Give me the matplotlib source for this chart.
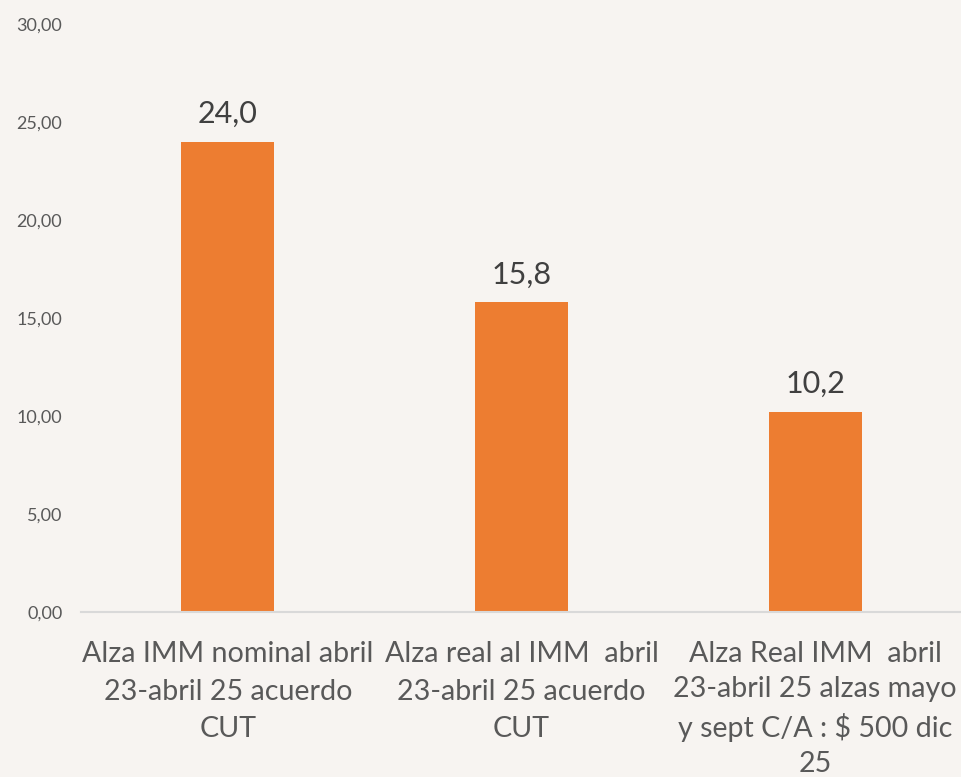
import matplotlib
matplotlib.use("Agg")
import matplotlib.pyplot as plt

categories = [
    "Alza IMM nominal abril\n23-abril 25 acuerdo\nCUT",
    "Alza real al IMM  abril\n23-abril 25 acuerdo\nCUT",
    "Alza Real IMM  abril\n23-abril 25 alzas mayo\ny sept C/A : $ 500 dic\n25",
]
values = [24.0, 15.8, 10.2]
yticks = [0, 5, 10, 15, 20, 25, 30]

bg = "#F7F4F1"
bar_color = "#ED7D31"
fam = ["Lato", "DejaVu Sans"]

fig = plt.figure(figsize=(9.62, 7.77), dpi=100, facecolor=bg)
ax = fig.add_axes([81/962, 1-612/777, 1-81/962, (612-24)/777])
ax.set_facecolor(bg)

x = list(range(len(categories)))
bars = ax.bar(x, values, width=0.317, color=bar_color, zorder=2)
ax.set_xlim(-0.5, len(categories)-0.5)
ax.set_ylim(0, 30)
ax.set_yticks(yticks)
ax.set_yticklabels([f"{v:.2f}".replace(".", ",") for v in yticks],
                   fontsize=13, color="#595959", family=fam)
ax.tick_params(axis="y", length=0, pad=13.5)
ax.tick_params(axis="x", length=0, pad=21)
ax.set_xticks(x)
labels = ax.set_xticklabels(categories, fontsize=20.6, color="#595959", family=fam,
                            linespacing=1.55, va="top")
labels[2].set_linespacing(1.44)
for s in ["top", "right", "left"]:
    ax.spines[s].set_visible(False)
ax.spines["bottom"].set_color("#D9D9D9")
ax.spines["bottom"].set_linewidth(1.5)

for b, v in zip(bars, values):
    ax.annotate(f"{v:.1f}".replace(".", ","), (b.get_x()+b.get_width()/2, v),
                xytext=(0, 10), textcoords="offset points", ha="center", va="bottom",
                fontsize=22, color="#404040", family=fam)

fig.savefig("out.png", dpi=100, facecolor=bg)
